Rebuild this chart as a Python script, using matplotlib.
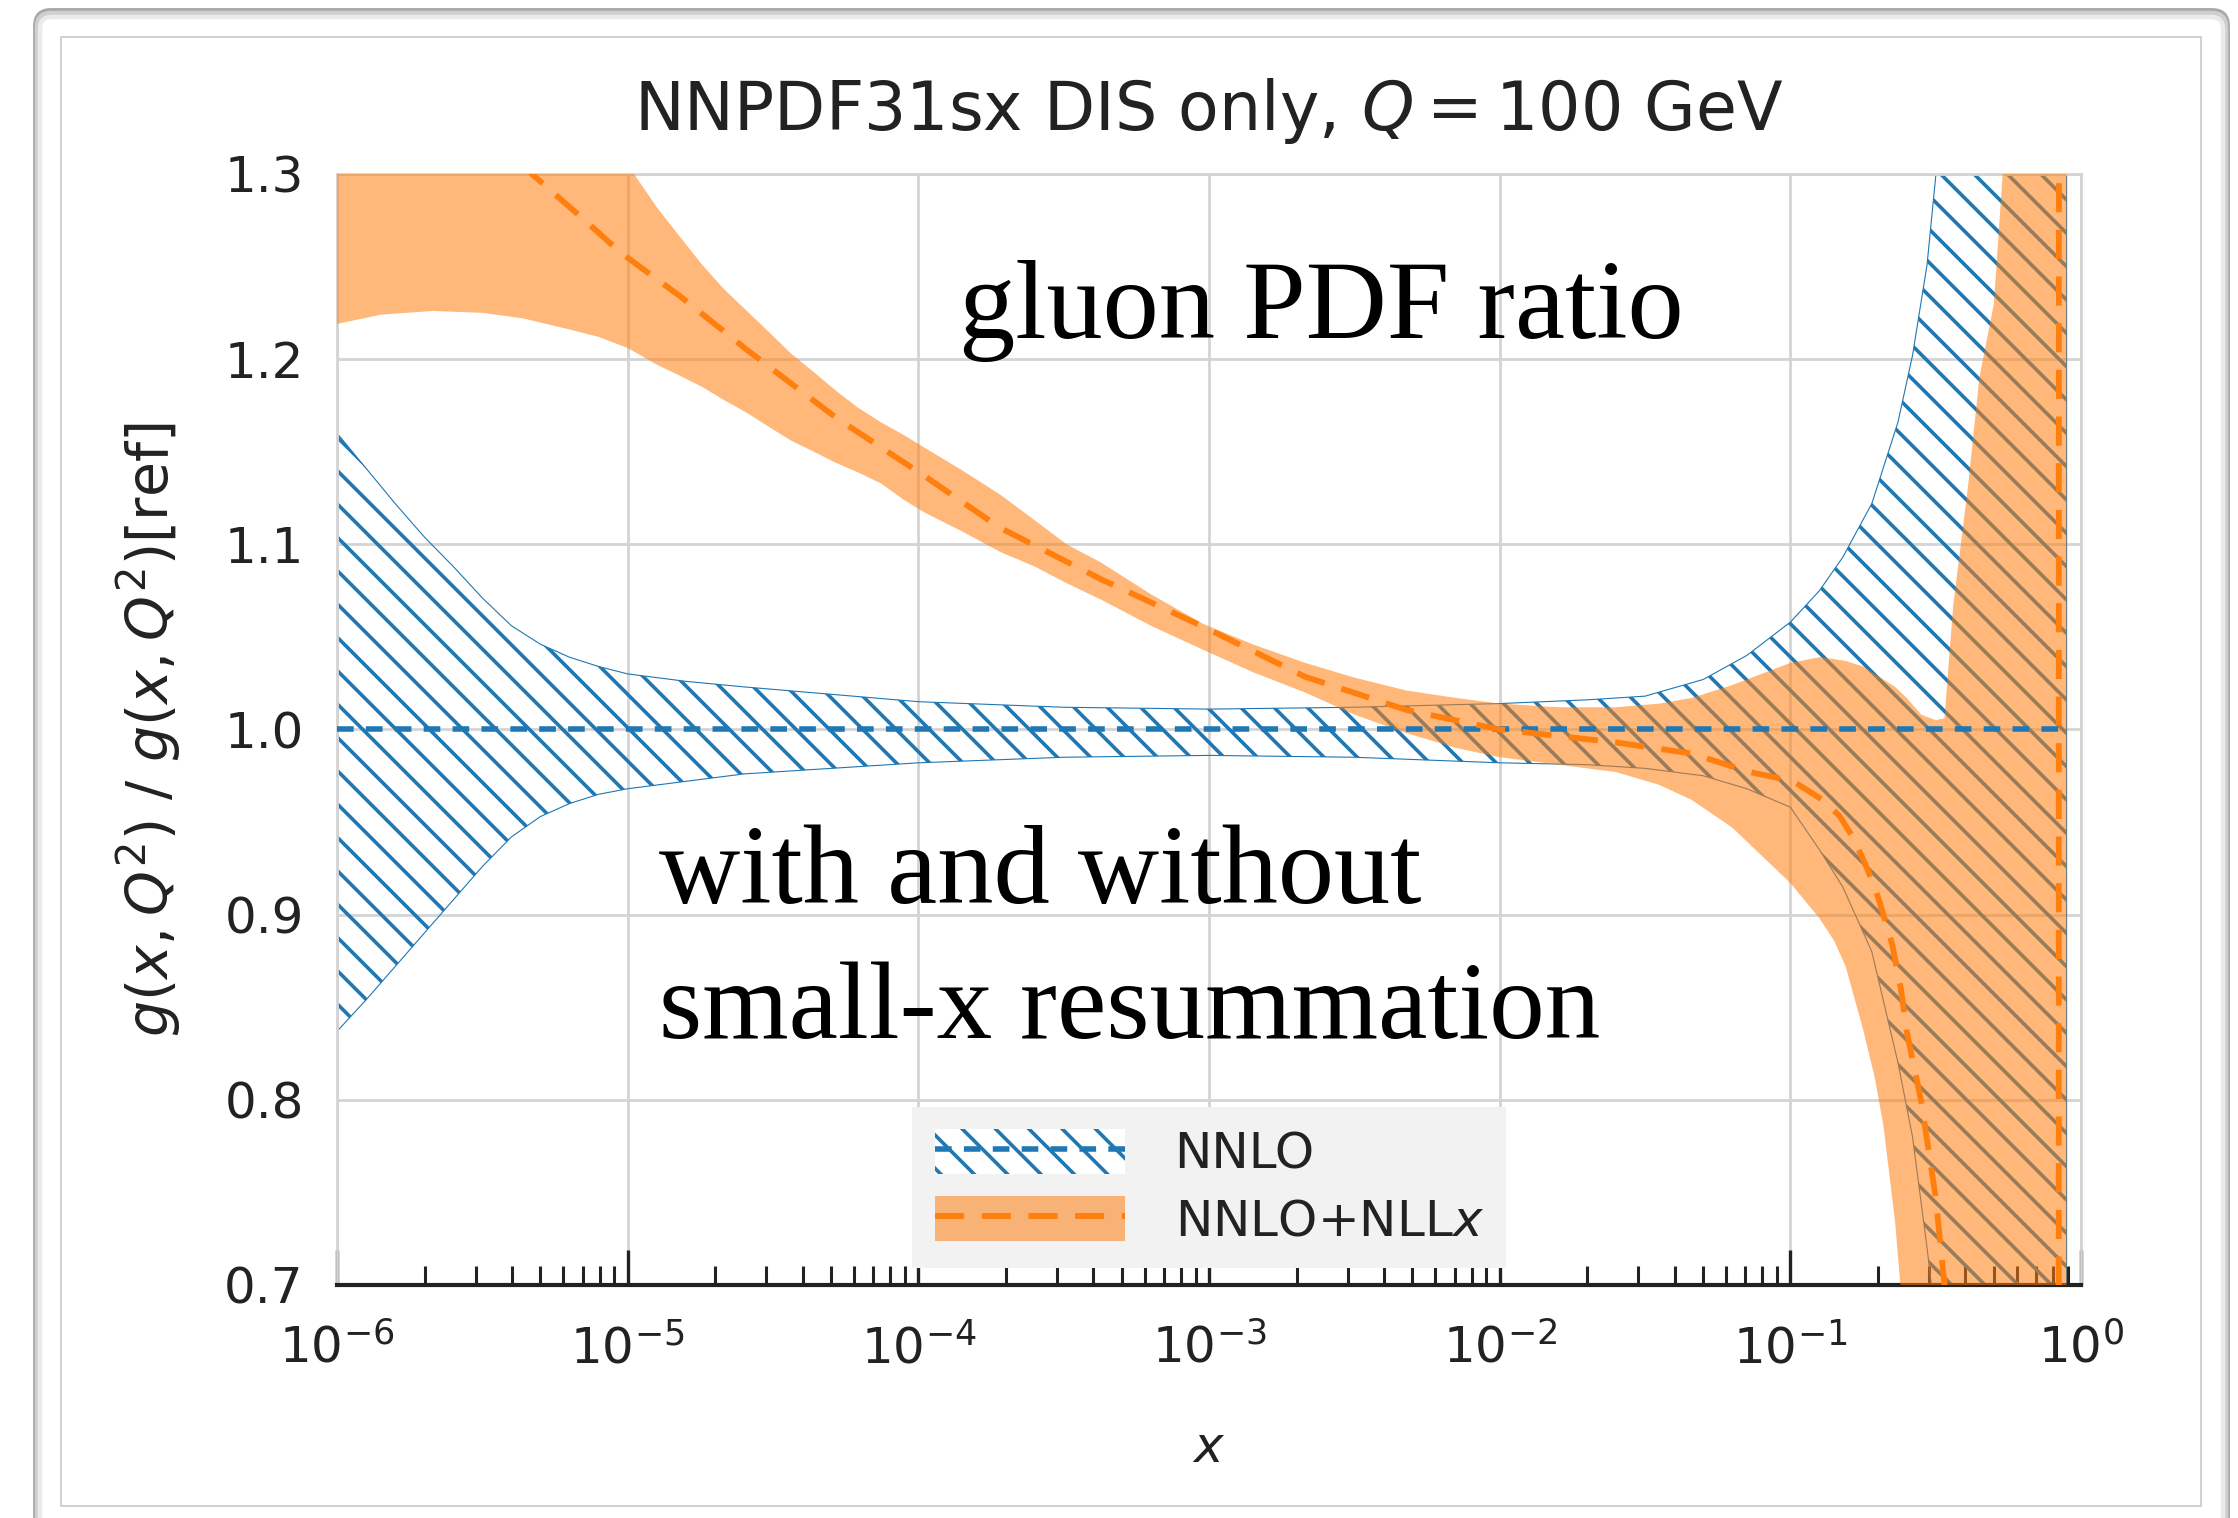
import numpy as np
import matplotlib.pyplot as plt
from matplotlib.patches import FancyBboxPatch, Rectangle, Patch
from matplotlib.lines import Line2D
from matplotlib.ticker import LogLocator
from matplotlib.transforms import Affine2D

plt.rcParams['font.family'] = ['DejaVu Sans']
plt.rcParams['mathtext.fontset'] = 'dejavusans'
plt.rcParams['hatch.linewidth'] = 1.3

# ---- data: log10(x) grids and gluon ratios ----
# NNLO band (ratio to its own central value)
nnlo_logx = [-6.0, -5.9, -5.8, -5.7, -5.6, -5.5, -5.4, -5.3, -5.2, -5.1, -5.0, -4.8, -4.6,
             -4.3, -4.0, -3.5, -3.0, -2.5, -2.0, -1.7, -1.5, -1.3, -1.15, -1.0, -0.9, -0.82,
             -0.72, -0.63, -0.58, -0.53, -0.50, -0.45, -0.3, -0.1, -0.05]
nnlo_up = [1.160, 1.141, 1.122, 1.104, 1.088, 1.071, 1.056, 1.046, 1.039, 1.034, 1.030, 1.026, 1.023,
           1.019, 1.015, 1.012, 1.011, 1.012, 1.014, 1.016, 1.018, 1.027, 1.040, 1.058, 1.075, 1.093,
           1.122, 1.166, 1.202, 1.251, 1.299, 1.40, 1.60, 2.00, 2.20]
nnlo_lo = [0.837, 0.854, 0.872, 0.890, 0.908, 0.926, 0.942, 0.953, 0.960, 0.965, 0.968, 0.972, 0.976,
           0.979, 0.982, 0.985, 0.986, 0.985, 0.982, 0.981, 0.979, 0.975, 0.968, 0.958, 0.935, 0.915,
           0.880, 0.820, 0.780, 0.720, 0.680, 0.600, 0.400, 0.000, -0.200]
nnlo_central = [1.0] * len(nnlo_logx)

# NNLO+NLLx band
res_logx = [-6.0, -5.85, -5.67, -5.5, -5.36, -5.2, -5.1, -5.0, -4.9, -4.82, -4.744, -4.67,
            -4.59, -4.51, -4.438, -4.36, -4.284, -4.21, -4.13, -4.05, -3.977, -3.85, -3.72,
            -3.6, -3.49, -3.37, -3.2, -3.02, -2.85, -2.67, -2.5, -2.32, -2.15, -2.0, -1.8,
            -1.6, -1.45, -1.34, -1.2, -1.1, -1.0, -0.9, -0.85, -0.81, -0.75, -0.71, -0.68,
            -0.66, -0.64, -0.6, -0.55, -0.50, -0.47, -0.44, -0.39, -0.35, -0.30, -0.27,
            -0.2, -0.05]
res_up = [1.60, 1.60, 1.60, 1.60, 1.55, 1.45, 1.36, 1.305, 1.282, 1.266, 1.251, 1.238,
          1.226, 1.214, 1.203, 1.193, 1.183, 1.174, 1.166, 1.159, 1.152, 1.140, 1.127,
          1.113, 1.100, 1.090, 1.073, 1.057, 1.046, 1.036, 1.028, 1.021, 1.017, 1.014, 1.012,
          1.012, 1.014, 1.017, 1.024, 1.030, 1.036, 1.039, 1.038, 1.037, 1.034, 1.030, 1.027,
          1.025, 1.023, 1.017, 1.008, 1.005, 1.006, 1.067, 1.130, 1.190, 1.230, 1.300,
          1.500, 2.000]
res_lo = [1.219, 1.224, 1.226, 1.225, 1.222, 1.216, 1.212, 1.206, 1.197, 1.191, 1.185, 1.178,
          1.171, 1.163, 1.156, 1.150, 1.144, 1.139, 1.133, 1.124, 1.117, 1.107, 1.096,
          1.088, 1.079, 1.070, 1.056, 1.043, 1.031, 1.020, 1.008, 0.998, 0.990, 0.985, 0.981,
          0.977, 0.970, 0.962, 0.947, 0.932, 0.917, 0.898, 0.886, 0.872, 0.838, 0.812, 0.786,
          0.760, 0.734, 0.660, 0.550, 0.400, 0.300, 0.200, 0.000, -0.200, -0.500, -0.700,
          -1.000, -2.000]

# NNLO+NLLx central value (goes through the pole of g_ref near x ~ 0.83)
res_c_logx = [-6.0, -5.5, -5.33, -5.17, -5.02, -4.82, -4.59, -4.28, -3.98, -3.72, -3.37, -3.02,
              -2.67, -2.32, -2.0, -1.6, -1.34, -1.14, -0.99, -0.88, -0.83, -0.79, -0.75, -0.71,
              -0.68, -0.65, -0.62, -0.60, -0.575, -0.55, -0.525, -0.50, -0.47, -0.40, -0.2,
              -0.08, -0.075, -0.05]
res_central = [1.50, 1.34, 1.300, 1.278, 1.257, 1.234, 1.205, 1.168, 1.137, 1.109, 1.081, 1.0555,
               1.0285, 1.0105, 1.000, 0.993, 0.987, 0.977, 0.972, 0.961, 0.953, 0.943, 0.930, 0.915,
               0.900, 0.884, 0.860, 0.837, 0.818, 0.799, 0.773, 0.747, 0.700, 0.550, 0.000,
               -3.0, 3.0, 2.5]

y_ticks = [0.7, 0.8, 0.9, 1.0, 1.1, 1.2, 1.3]

x_nnlo = 10.0 ** np.array(nnlo_logx)
x_res = 10.0 ** np.array(res_logx)
x_res_c = 10.0 ** np.array(res_c_logx)

azul = '#1f77b4'
laranja = '#ff7f0e'

fig = plt.figure(figsize=(11.19, 7.59), dpi=200)

# ---- frame around the figure, in pixels from the top-left corner ----
px = Affine2D().scale(1 / 2238, -1 / 1518).translate(0, 1) + fig.transFigure
moldura = [
    FancyBboxPatch((35, 10), 2193, 1560, boxstyle='round,pad=0,rounding_size=16',
                   facecolor='white', edgecolor='#a8a8a8', linewidth=1.4),
    FancyBboxPatch((37, 13), 2189, 1560, boxstyle='round,pad=0,rounding_size=14',
                   facecolor='none', edgecolor='#cfcfcf', linewidth=1.6),
    FancyBboxPatch((40, 17), 2183, 1560, boxstyle='round,pad=0,rounding_size=12',
                   facecolor='none', edgecolor='#ebebeb', linewidth=1.6),
    Rectangle((61, 37), 2140, 1469, facecolor='white', edgecolor='#c8c8c8', linewidth=0.6),
]
for p in moldura:
    p.set_transform(px)
    p.set_zorder(-1)
    fig.add_artist(p)

# ---- main plot ----
ax = fig.add_axes([0.1506, 0.1535, 0.7793, 0.7319])
ax.set_facecolor('white')

ax.fill_between(x_nnlo, nnlo_lo, nnlo_up, facecolor='none', edgecolor=azul,
                hatch='\\\\', linewidth=0.4, zorder=2)
ax.fill_between(x_res, res_lo, res_up, facecolor=laranja, alpha=0.55, linewidth=0, zorder=3)
ax.plot(x_nnlo, nnlo_central, color=azul, linestyle='--', linewidth=2.0, dashes=(3, 2.2), zorder=4)
ax.plot(x_res_c, res_central, color=laranja, linestyle='--', linewidth=2.1, dashes=(5, 3), zorder=5)

ax.set_xscale('log')
ax.set_xlim(1e-6, 1.0)
ax.set_ylim(0.7, 1.3)
ax.set_yticks(y_ticks)
ax.set_yticklabels([f'{v:.1f}' for v in y_ticks])
ax.xaxis.set_major_locator(LogLocator(base=10, numticks=10))
ax.xaxis.set_minor_locator(LogLocator(base=10, subs=np.arange(2, 10), numticks=20))

ax.grid(True, which='major', color='#d4d4d4', linewidth=1.0, zorder=0)
ax.set_axisbelow(True)
for lado in ['left', 'top', 'right']:
    ax.spines[lado].set_color('#d4d4d4')
    ax.spines[lado].set_linewidth(1.0)
ax.spines['bottom'].set_color('#222222')
ax.spines['bottom'].set_linewidth(1.5)

ax.tick_params(axis='x', which='major', direction='in', length=12.5, width=1.2,
               color='#222222', labelsize=18, pad=14, labelcolor='#222222')
ax.tick_params(axis='x', which='minor', direction='in', length=6.8, width=1.1, color='#222222')
ax.tick_params(axis='y', which='both', length=0, labelsize=18, pad=12, labelcolor='#222222')

ax.set_title(r'NNPDF31sx DIS only, $Q = 100$ GeV', fontsize=24, pad=16, color='#222222')
ax.set_xlabel(r'$x$', fontsize=18, labelpad=18, color='#222222')
ax.set_ylabel(r'$g(x,Q^2)$ / $g(x,Q^2)$[ref]', fontsize=20.5, labelpad=15, color='#222222')

# legend: hatched band + dashed line, filled band + dashed line
h_nnlo = (Patch(facecolor='white', edgecolor=azul, hatch='\\\\', linewidth=0),
          Line2D([], [], color=azul, linestyle='--', linewidth=2.0, dashes=(3, 2.2)))
h_res = (Patch(facecolor=laranja, alpha=0.55, linewidth=0),
         Line2D([], [], color=laranja, linestyle='--', linewidth=2.1, dashes=(5, 3)))
leg = ax.legend([h_nnlo, h_res], ['NNLO', r'NNLO+NLL$x$'], loc='lower center',
                bbox_to_anchor=(0.5, 0.015), fontsize=18, handlelength=3.8, handleheight=1.0,
                borderpad=0.45, labelspacing=0.35, handletextpad=1.0, borderaxespad=0,
                frameon=True, fancybox=False, facecolor='#f2f2f2', edgecolor='none', framealpha=1)
leg.set_zorder(6)
for t in leg.get_texts():
    t.set_color('#222222')

# annotations in serif
serif = ['Liberation Serif', 'DejaVu Serif']
ax.text(0.3567, 0.8524, 'gluon PDF ratio', transform=ax.transAxes, fontsize=40.5,
        family=serif, va='baseline', ha='left', color='black', zorder=7)
ax.text(0.1846, 0.3438, 'with and without', transform=ax.transAxes, fontsize=40.5,
        family=serif, va='baseline', ha='left', color='black', zorder=7)
ax.text(0.1846, 0.2223, 'small-x resummation', transform=ax.transAxes, fontsize=40,
        family=serif, va='baseline', ha='left', color='black', zorder=7)

plt.savefig('out.png', dpi=200)
